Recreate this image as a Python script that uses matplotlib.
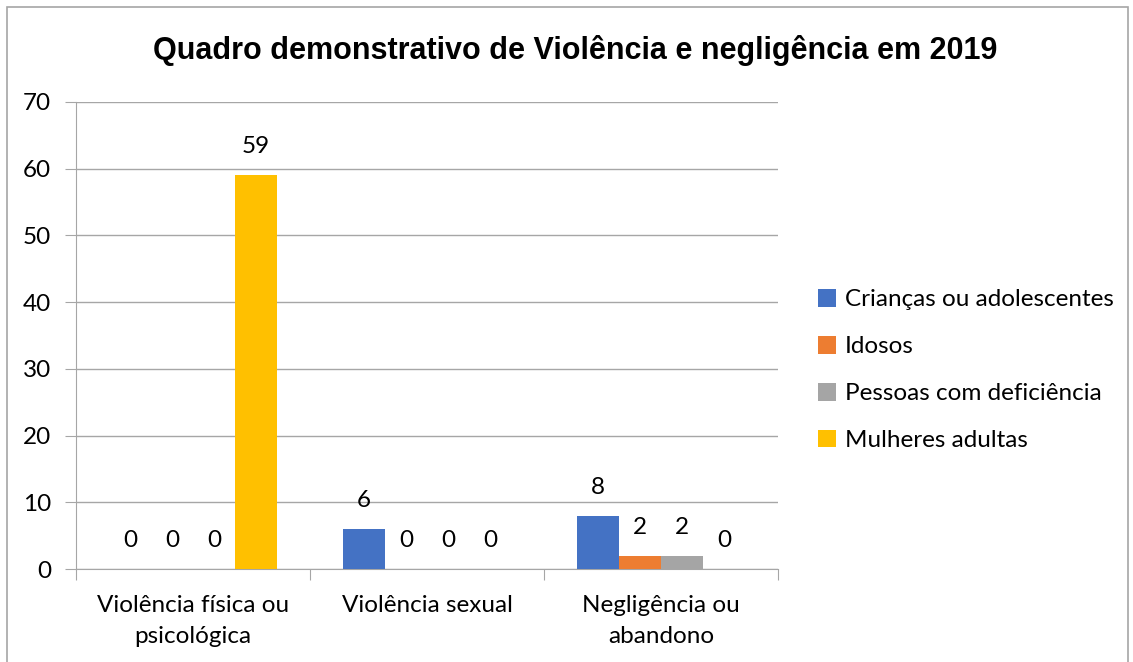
import numpy as np
import matplotlib
matplotlib.use("Agg")
import matplotlib.pyplot as plt
from matplotlib.patches import Rectangle

categories = ["Violência física ou\npsicológica", "Violência sexual", "Negligência ou\nabandono"]
series_names = ["Crianças ou adolescentes", "Idosos", "Pessoas com deficiência", "Mulheres adultas"]
criancas = [0, 6, 8]
idosos = [0, 0, 2]
deficiencia = [0, 0, 2]
mulheres = [59, 0, 0]
colors = ["#4472C4", "#ED7D31", "#A5A5A5", "#FFC000"]

plt.rcParams['font.family'] = ['Lato', 'DejaVu Sans']

W, H = 1133, 662
fig = plt.figure(figsize=(W / 100, H / 100), dpi=100)

# outer chart border
fig.patches.append(Rectangle((7 / W, -0.1), (W - 12) / W, 1.1 - 7 / H,
                             transform=fig.transFigure, fill=False,
                             edgecolor="#a6a6a6", linewidth=1.2))

ax = fig.add_axes([76 / W, 1 - 569 / H, (778 - 76) / W, (569 - 102) / H])

x = np.arange(len(categories))
bw = 0.18
values = [criancas, idosos, deficiencia, mulheres]
for i, (vals, name, c) in enumerate(zip(values, series_names, colors)):
    pos = x + (i - 1.5) * bw
    ax.bar(pos, vals, width=bw, color=c, label=name, zorder=3)
    for xp, v in zip(pos, vals):
        ax.annotate(str(v), (xp, v), xytext=(0, 20.5), textcoords="offset points",
                    ha="center", va="center", fontsize=17.5, color="black")

ax.set_xlim(-0.5, len(categories) - 0.5)
ax.set_ylim(0, 70)
ax.set_yticks(range(0, 71, 10))
ax.tick_params(axis="y", labelsize=17.5, length=8, color="#a6a6a6", pad=10)
ax.set_xticks([-0.5, 0.5, 1.5, 2.5])
ax.set_xticklabels([])
ax.tick_params(axis="x", length=8, color="#a6a6a6")
for xc, lab in zip(x, categories):
    ax.text(xc, -3.9, lab, ha="center", va="top", fontsize=17.5, linespacing=1.6)

ax.grid(axis="y", color="#a6a6a6", linewidth=1, zorder=0)
for s in ["top", "right"]:
    ax.spines[s].set_visible(False)
ax.spines["left"].set_color("#a6a6a6")
ax.spines["bottom"].set_color("#a6a6a6")

fig.text(575 / W, 1 - 50 / H, "Quadro demonstrativo de Violência e negligência em 2019",
         ha="center", va="center", fontsize=22, fontweight="bold",
         family=["Liberation Sans", "DejaVu Sans"])

fig.legend(loc="center left", bbox_to_anchor=(796 / W, 1 - 370 / H), frameon=False,
           fontsize=17.5, handlelength=0.75, handleheight=0.75, handletextpad=0.35,
           labelspacing=1.05)

fig.savefig("out.png", dpi=100)
